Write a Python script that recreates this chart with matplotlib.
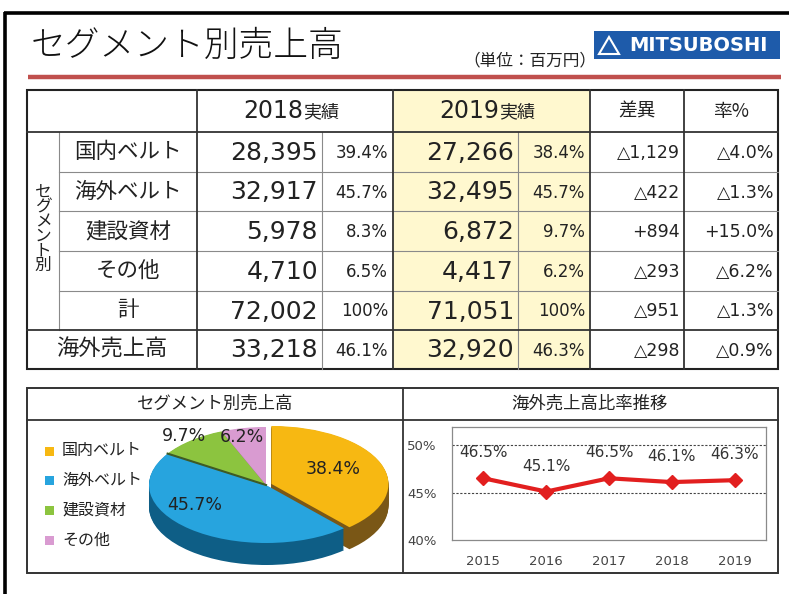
import matplotlib
matplotlib.use("Agg")
import matplotlib.pyplot as plt
from matplotlib.patches import Rectangle, Polygon
import numpy as np

plt.rcParams['font.family'] = ['DejaVu Sans', 'Noto Sans CJK JP']

# ---------------- data ----------------
title = 'セグメント別売上高'
unit_label = '（単位：百万円）'
row_labels = ['国内ベルト', '海外ベルト', '建設資材', 'その他', '計']
sales_2018 = [28395, 32917, 5978, 4710, 72002]
share_2018 = ['39.4%', '45.7%', '8.3%', '6.5%', '100%']
sales_2019 = [27266, 32495, 6872, 4417, 71051]
share_2019 = ['38.4%', '45.7%', '9.7%', '6.2%', '100%']
diff_vals = ['△1,129', '△422', '+894', '△293', '△951']
rate_vals = ['△4.0%', '△1.3%', '+15.0%', '△6.2%', '△1.3%']
overseas_label = '海外売上高'
overseas_2018 = 33218
overseas_share_2018 = '46.1%'
overseas_2019 = 32920
overseas_share_2019 = '46.3%'
overseas_diff = '△298'
overseas_rate = '△0.9%'

pie_segments = ['国内ベルト', '海外ベルト', '建設資材', 'その他']
pie_values = [38.4, 45.7, 9.7, 6.2]

years = ['2015', '2016', '2017', '2018', '2019']
overseas_ratio = [46.5, 45.1, 46.5, 46.1, 46.3]

# ---------------- figure ----------------
W, H = 789, 594
fig = plt.figure(figsize=(W / 100, H / 100), dpi=100)
fig.patch.set_facecolor('white')
ax0 = fig.add_axes([0, 0, 1, 1])
ax0.set_xlim(0, W)
ax0.set_ylim(H, 0)
ax0.axis('off')

JP = ['Noto Sans CJK JP', 'DejaVu Sans']
NUM = ['DejaVu Sans', 'Noto Sans CJK JP']
dark = '#222222'

# outer frame
ax0.plot([5, 5], [12, H], color='black', lw=2.6, solid_capstyle='butt')
ax0.plot([4, W], [13, 13], color='black', lw=2.6, solid_capstyle='butt')

# title
ax0.text(31, 46, title, fontsize=25, family=JP, fontweight='light', va='center', ha='left',
         color='#111111')
ax0.plot([28, 781], [77, 77], color='#C0504D', lw=3.2, solid_capstyle='butt')
ax0.text(530, 61, unit_label, fontsize=12, family=JP, va='center', ha='center', color=dark)

# logo
ax0.add_patch(Rectangle((594, 31), 186, 28, facecolor='#1E5BAA', edgecolor='none'))
ax0.add_patch(Polygon([[609, 37], [599, 54], [619, 54]], closed=True, facecolor='none',
                      edgecolor='white', lw=1.5))
ax0.text(698, 45.5, 'MITSUBOSHI', fontsize=14, fontweight='bold', color='white',
         ha='center', va='center', family=NUM)

# ---------------- table ----------------
xs = [27, 59, 197, 322, 393, 518, 590, 684, 778]
ys = [90, 132, 172, 211, 251, 291, 330, 369]

ax0.add_patch(Rectangle((393, 90), 197, 279, facecolor='#FFF8CF', edgecolor='none'))

thin = dict(color='#8a8a8a', lw=0.8)
thick = dict(color='#333333', lw=1.3)
for y in ys[2:6]:
    ax0.plot([59, 778], [y, y], **thin)
ax0.plot([59, 59], [132, 330], **thin)
ax0.plot([322, 322], [132, 369], **thin)
ax0.plot([518, 518], [132, 369], **thin)
ax0.plot([27, 778], [132, 132], **thick)
ax0.plot([27, 778], [330, 330], **thick)
for x in [197, 393, 590, 684]:
    ax0.plot([x, x], [90, 369], **thick)
ax0.add_patch(Rectangle((27, 90), 751, 279, facecolor='none', edgecolor='#222222', lw=1.5))

def header_year(cx, yr):
    ax0.text(cx + 8, 111, yr, fontsize=17, family=NUM, ha='right', va='center', color=dark)
    ax0.text(cx + 8, 112, '実績', fontsize=13, family=JP, ha='left', va='center', color=dark)

header_year(295, '2018')
header_year(491, '2019')
ax0.text(637, 111, '差異', fontsize=13.5, family=JP, ha='center', va='center', color=dark)
ax0.text(731, 111, '率%', fontsize=13.5, family=JP, ha='center', va='center', color=dark)

ax0.text(43, 229, 'セ\nグ\nメ\nン\nト\n別', fontsize=12, family=JP, ha='center', va='center',
         color=dark, linespacing=0.8)

VAL = 18
PCT = 12
DIF = 12.5
for i, lab in enumerate(row_labels):
    yc = (ys[i + 1] + ys[i + 2]) / 2
    ax0.text(128, yc, lab, fontsize=15.5, family=JP, ha='center', va='center', color=dark)
    ax0.text(318, yc + 1, f'{sales_2018[i]:,}', fontsize=VAL, family=NUM, ha='right', va='center', color=dark)
    ax0.text(388, yc + 1, share_2018[i], fontsize=PCT, family=NUM, ha='right', va='center', color=dark)
    ax0.text(514, yc + 1, f'{sales_2019[i]:,}', fontsize=VAL, family=NUM, ha='right', va='center', color=dark)
    ax0.text(585, yc + 1, share_2019[i], fontsize=PCT, family=NUM, ha='right', va='center', color=dark)
    ax0.text(680, yc + 1, diff_vals[i], fontsize=DIF, family=NUM, ha='right', va='center', color=dark)
    ax0.text(774, yc + 1, rate_vals[i], fontsize=DIF, family=NUM, ha='right', va='center', color=dark)

yc = (330 + 369) / 2
ax0.text(112, yc, overseas_label, fontsize=16, family=JP, ha='center', va='center', color=dark)
ax0.text(318, yc + 1, f'{overseas_2018:,}', fontsize=VAL, family=NUM, ha='right', va='center', color=dark)
ax0.text(388, yc + 1, overseas_share_2018, fontsize=PCT, family=NUM, ha='right', va='center', color=dark)
ax0.text(514, yc + 1, f'{overseas_2019:,}', fontsize=VAL, family=NUM, ha='right', va='center', color=dark)
ax0.text(585, yc + 1, overseas_share_2019, fontsize=PCT, family=NUM, ha='right', va='center', color=dark)
ax0.text(680, yc + 1, overseas_diff, fontsize=DIF, family=NUM, ha='right', va='center', color=dark)
ax0.text(774, yc + 1, overseas_rate, fontsize=DIF, family=NUM, ha='right', va='center', color=dark)

# ---------------- lower panels ----------------
ax0.add_patch(Rectangle((27, 388), 751, 185, facecolor='none', edgecolor='#333333', lw=1.4))
ax0.plot([27, 778], [420, 420], color='#333333', lw=1.3)
ax0.plot([403, 403], [388, 573], color='#333333', lw=1.3)
ax0.text(215, 404, 'セグメント別売上高', fontsize=12.5, family=JP, ha='center', va='center', color=dark)
ax0.text(590, 404, '海外売上高比率推移', fontsize=12.5, family=JP, ha='center', va='center', color=dark)

pie_colors = ['#F7B812', '#27A4DE', '#8CC43F', '#D99BD1']
side_colors = ['#7A5716', '#0E5E86', '#4E7A22', '#8A5A86']

for i, seg in enumerate(pie_segments):
    yl = 451 + i * 29.7
    ax0.add_patch(Rectangle((45, yl - 4.5), 9, 9, facecolor=pie_colors[i], edgecolor='none'))
    ax0.text(62, yl, seg, fontsize=11.5, family=JP, ha='left', va='center', color=dark)

cx, cy, rx, ry = 266, 485, 117, 58
lim = 1.35
px0, px1 = cx - lim * rx, cx + lim * rx
py0, py1 = cy - lim * ry, cy + lim * ry
axp = fig.add_axes([px0 / W, 1 - py1 / H, (px1 - px0) / W, (py1 - py0) / H])
axp.patch.set_alpha(0)
explode = [0.05, 0, 0, 0]
depth = 22 / ry
for k in np.linspace(depth, 0.01, 24):
    axp.pie(pie_values, colors=side_colors, startangle=90, counterclock=False,
            explode=explode, center=(0, -k), wedgeprops=dict(linewidth=0))
wedges, _ = axp.pie(pie_values, colors=pie_colors, startangle=90, counterclock=False,
                    explode=explode, center=(0, 0), wedgeprops=dict(linewidth=0))
seam = np.deg2rad(wedges[1].theta1)
axp.plot([0, np.cos(seam)], [0, np.sin(seam)], color='#3E5A25', lw=1.5)
label_r = [0.64, 0.7, 1.1, 0.86]
label_shift = [5, -20, 0, 3]
for w, v, r, s in zip(wedges, pie_values, label_r, label_shift):
    mid = np.deg2rad((w.theta1 + w.theta2) / 2 + s)
    axp.text(r * np.cos(mid), r * np.sin(mid), f'{v}%', fontsize=12.5, family=NUM,
             ha='center', va='center', color=dark)
axp.set_aspect('auto')
axp.set_xlim(-lim, lim)
axp.set_ylim(-lim, lim)
axp.axis('off')

lx0, lx1, ly0, ly1 = 452, 766, 427, 540
axl = fig.add_axes([lx0 / W, 1 - ly1 / H, (lx1 - lx0) / W, (ly1 - ly0) / H])
axl.patch.set_alpha(0)
xi = np.arange(len(years))
axl.plot(xi, overseas_ratio, color='#E21F1F', lw=3, marker='D', markersize=7,
         markeredgecolor='#E21F1F')
for x, v in zip(xi, overseas_ratio):
    axl.annotate(f'{v}%', (x, v), xytext=(0, 13), textcoords='offset points', ha='center',
                 va='bottom', fontsize=11, color='#333333', family=NUM)
axl.set_xlim(-0.5, len(years) - 0.5)
axl.set_ylim(40, 51.9)
for yv in [45, 50]:
    axl.axhline(yv, color='#444444', lw=0.8, ls=(0, (2, 1.5)), zorder=0)
axl.set_yticks([40, 45, 50])
axl.set_yticklabels(['40%', '45%', '50%'])
axl.set_xticks(xi)
axl.set_xticklabels(years)
axl.tick_params(axis='both', length=0, labelsize=9.5, labelcolor='#444444')
axl.tick_params(axis='y', pad=11)
axl.tick_params(axis='x', pad=11)
for sp in axl.spines.values():
    sp.set_color('#8a8a8a')
    sp.set_linewidth(0.9)

fig.savefig('out.png', dpi=100)
